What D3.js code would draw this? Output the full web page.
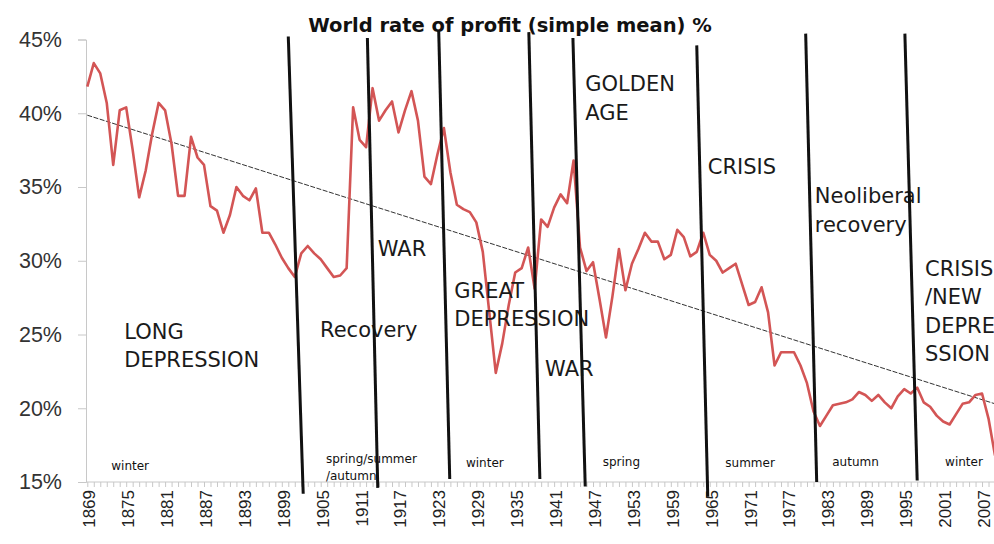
<!DOCTYPE html>
<html>
<head>
<meta charset="utf-8">
<script src="https://cdn.jsdelivr.net/npm/d3@7"></script>
<style>
  body { margin: 0; background: #fff; }
  svg { display: block; font-family: "DejaVu Sans", sans-serif; }
  .y-axis .domain, .x-axis .domain { stroke: #c8c8c8; }
  .y-axis .tick line, .x-minor .tick line { stroke: #c8c8c8; }
  .x-minor .domain { display: none; }
</style>
</head>
<body>
<div id="chart"></div>
<script>
var svgWidth = 994;
var svgHeight = 544;

// years on the category axis
var years = d3.range(1869, 2010);

// world rate of profit, simple mean, %
var profitRate = [
  41.8, 43.4, 42.7, 40.7, 36.5, 40.2, 40.4, 37.5, 34.3, 36.1,   // 1869-1878
  38.6, 40.7, 40.2, 37.9, 34.4, 34.4, 38.4, 37.0, 36.5, 33.7,   // 1879-1888
  33.4, 31.9, 33.1, 35.0, 34.4, 34.1, 34.9, 31.9, 31.9, 31.1,   // 1889-1898
  30.2, 29.5, 28.9, 30.5, 31.0, 30.5, 30.1, 29.5, 28.9, 29.0,   // 1899-1908
  29.5, 40.4, 38.2, 37.7, 41.7, 39.5, 40.2, 40.8, 38.7, 40.2,   // 1909-1918
  41.5, 39.5, 35.7, 35.2, 37.2, 39.0, 36.0, 33.8, 33.5, 33.3,   // 1919-1928
  32.6, 30.6, 26.5, 22.4, 24.4, 27.0, 29.2, 29.5, 30.9, 28.1,   // 1929-1938
  32.8, 32.3, 33.6, 34.5, 33.9, 36.8, 30.9, 29.3, 29.9, 27.4,   // 1939-1948
  24.8, 27.6, 30.8, 28.0, 29.8, 30.8, 31.9, 31.3, 31.3, 30.1,   // 1949-1958
  30.4, 32.1, 31.6, 30.3, 30.6, 31.9, 30.4, 30.0, 29.2, 29.5,   // 1959-1968
  29.8, 28.4, 27.0, 27.2, 28.2, 26.5, 22.9, 23.8, 23.8, 23.8,   // 1969-1978
  22.9, 21.7, 19.8, 18.8, 19.5, 20.2, 20.3, 20.4, 20.6, 21.1,   // 1979-1988
  20.9, 20.5, 20.9, 20.4, 20.0, 20.8, 21.3, 21.0, 21.4, 20.4,   // 1989-1998
  20.1, 19.5, 19.1, 18.9, 19.6, 20.3, 20.4, 20.9, 21.0, 19.3,   // 1999-2008
  16.8                                                          // 2009
];

var yTicks = [15, 20, 25, 30, 35, 40, 45];
var xTickYears = [1869, 1875, 1881, 1887, 1893, 1899, 1905, 1911, 1917, 1923, 1929, 1935,
  1941, 1947, 1953, 1959, 1965, 1971, 1977, 1983, 1989, 1995, 2001, 2007];

// hand drawn period boundaries (year / % at each end)
var boundaryTopYear = [1900.0, 1912.2, 1923.2, 1937.1, 1943.9, 1963.0, 1979.8, 1995.1];
var boundaryTopPct = [45.2, 45.1, 45.6, 45.5, 45.1, 44.6, 45.4, 45.4];
var boundaryBottomYear = [1902.3, 1913.8, 1924.9, 1938.8, 1945.8, 1964.7, 1981.5, 1997.0];
var boundaryBottomPct = [14.2, 14.6, 15.2, 15.2, 14.7, 14.0, 15.0, 15.1];

// period names
var phaseText = [["LONG", "DEPRESSION"], ["Recovery"], ["WAR"], ["GREAT", "DEPRESSION"], ["WAR"],
  ["GOLDEN", "AGE"], ["CRISIS"], ["Neoliberal", "recovery"], ["CRISIS", "/NEW", "DEPRE", "SSION"]];
var phaseYear = [1874.7, 1904.9, 1913.8, 1925.6, 1939.6, 1945.8, 1964.7, 1981.2, 1998.2];
var phasePct = [24.7, 24.8, 30.3, 27.5, 22.2, 41.5, 35.9, 33.9, 29.0];

// seasons
var seasonText = [["winter"], ["spring/summer", "/autumn"], ["winter"], ["spring"], ["summer"], ["autumn"], ["winter"]];
var seasonYear = [1872.7, 1905.8, 1927.4, 1948.5, 1967.4, 1983.9, 2001.3];
var seasonPct = [15.8, 16.3, 16.0, 16.1, 16.0, 16.1, 16.1];

var svg = d3.select("#chart")
  .append("svg")
  .attr("width", svgWidth)
  .attr("height", svgHeight);

svg.append("rect")
  .attr("width", svgWidth)
  .attr("height", svgHeight)
  .attr("fill", "#fff");

var xScale = d3.scaleLinear()
  .domain([1869, 2009])
  .range([87.3, 995]);

var yScale = d3.scaleLinear()
  .domain([15, 45])
  .range([482, 39.5]);

var data = years.map((y, i) => ({ year: y, value: profitRate[i] }));

// y axis
var yAxis = svg.append("g")
  .attr("class", "y-axis")
  .attr("transform", "translate(86,0)")
  .call(d3.axisLeft(yScale).tickValues(yTicks).tickSize(8).tickPadding(16).tickFormat(d => d + "%"));
yAxis.selectAll("text")
  .style("font-size", "21.5px")
  .attr("fill", "#333");

// x axis: small tick for every year
svg.append("g")
  .attr("class", "x-minor")
  .attr("transform", "translate(0,482)")
  .call(d3.axisBottom(xScale).tickValues(years).tickSize(5).tickFormat(""));

var xAxis = svg.append("g")
  .attr("class", "x-axis")
  .attr("transform", "translate(0,482)")
  .call(d3.axisBottom(xScale).tickValues(xTickYears).tickSize(0).tickFormat(d3.format("d")));
xAxis.select(".domain").attr("d", "M86,0H994");
xAxis.selectAll("text")
  .attr("transform", "rotate(-90)")
  .attr("text-anchor", "end")
  .attr("x", -8)
  .attr("y", 1.5)
  .attr("dy", "0.35em")
  .style("font-size", "17px")
  .attr("fill", "#222");

// linear trend (least squares on the series)
var mx = d3.mean(data, d => d.year);
var my = d3.mean(data, d => d.value);
var slope = d3.sum(data, d => (d.year - mx) * (d.value - my)) / d3.sum(data, d => (d.year - mx) * (d.year - mx));
var trend = [1869, 2009].map(y => ({ year: y, value: my + slope * (y - mx) }));

svg.append("path")
  .datum(trend)
  .attr("fill", "none")
  .attr("stroke", "#333")
  .attr("stroke-width", 1)
  .attr("stroke-dasharray", "5,1.5")
  .attr("d", d3.line().x(d => xScale(d.year)).y(d => yScale(d.value)));

// profit rate line
svg.append("path")
  .datum(data)
  .attr("fill", "none")
  .attr("stroke", "#d35555")
  .attr("stroke-width", 2.6)
  .attr("stroke-linejoin", "round")
  .attr("d", d3.line().x(d => xScale(d.year)).y(d => yScale(d.value)));

// period names
var phases = svg.append("g")
  .selectAll("text")
  .data(phaseText)
  .enter()
  .append("text")
  .attr("x", (d, i) => xScale(phaseYear[i]))
  .attr("y", (d, i) => yScale(phasePct[i]))
  .style("font-size", "21px")
  .attr("fill", "#1a1a1a");
phases.each(function(lines, i) {
  var t = d3.select(this);
  lines.forEach((s, j) => {
    t.append("tspan")
      .attr("x", xScale(phaseYear[i]))
      .attr("dy", j === 0 ? 0 : 28.5)
      .text(s);
  });
});

// seasons
var seasons = svg.append("g")
  .selectAll("text")
  .data(seasonText)
  .enter()
  .append("text")
  .attr("x", (d, i) => xScale(seasonYear[i]))
  .attr("y", (d, i) => yScale(seasonPct[i]))
  .style("font-size", "12px")
  .attr("fill", "#111");
seasons.each(function(lines, i) {
  var t = d3.select(this);
  lines.forEach((s, j) => {
    t.append("tspan")
      .attr("x", xScale(seasonYear[i]))
      .attr("dy", j === 0 ? 0 : 17)
      .text(s);
  });
});

// title
svg.append("text")
  .attr("x", 510)
  .attr("y", 32)
  .attr("text-anchor", "middle")
  .style("font-size", "19.5px")
  .style("font-weight", "bold")
  .attr("fill", "#111")
  .text("World rate of profit (simple mean) %");

// boundary strokes on top
svg.append("g")
  .selectAll("line")
  .data(boundaryTopYear)
  .enter()
  .append("line")
  .attr("x1", (d, i) => xScale(d))
  .attr("y1", (d, i) => yScale(boundaryTopPct[i]))
  .attr("x2", (d, i) => xScale(boundaryBottomYear[i]))
  .attr("y2", (d, i) => yScale(boundaryBottomPct[i]))
  .attr("stroke", "#111")
  .attr("stroke-width", 3);
</script>
</body>
</html>
